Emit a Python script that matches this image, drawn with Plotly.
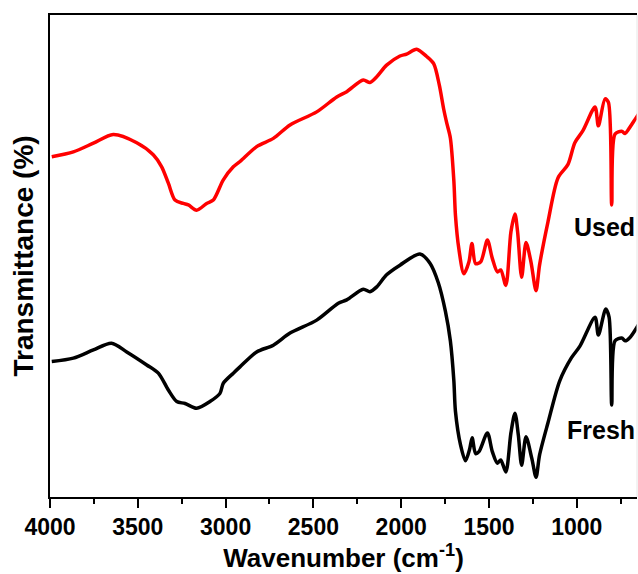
import plotly.graph_objects as go

# FTIR spectra: wavenumber (cm^-1) and transmittance (arbitrary, offset)
used_wn = [3990, 3867, 3753, 3640, 3506, 3412, 3364, 3326, 3288, 3241, 3212, 3165,
           3108, 3070, 3013, 2956, 2918, 2823, 2728, 2633, 2481, 2367, 2310, 2216,
           2178, 2139, 2083, 2007, 1969, 1912, 1855, 1815, 1783, 1758, 1740, 1720, 1700,
           1691, 1672, 1643, 1614, 1597, 1576, 1547, 1509, 1481, 1452, 1433, 1404,
           1375, 1352, 1337, 1314, 1289, 1261, 1232, 1212, 1164, 1107, 1050, 1011,
           965, 896, 877, 839, 820, 801, 782, 744, 725, 705, 667, 640]
used_t = [70.6, 71.6, 73.4, 75.2, 73.5, 71.0, 68.5, 65.1, 61.6, 60.9, 60.6, 59.5,
          60.9, 61.6, 65.8, 68.5, 69.6, 72.7, 74.4, 77.2, 79.9, 83.0, 84.1, 86.5,
          86.0, 87.2, 89.6, 91.5, 91.9, 92.9, 91.4, 89.9, 85.5, 80.5, 77.5, 74.5, 65.6,
          58.5, 51.6, 46.3, 48.8, 52.6, 48.4, 48.8, 53.3, 49.5, 46.7, 47.1, 43.9,
          55.0, 58.7, 55.0, 45.6, 52.8, 48.8, 42.8, 48.1, 57.1, 66.2, 69.0, 73.5,
          76.0, 80.9, 77.0, 82.6, 81.9, 60.6, 75.3, 75.9, 75.4, 76.3, 78.4, 79.9]

fresh_wn = [3990, 3867, 3753, 3650, 3563, 3449, 3383, 3326, 3278, 3231, 3165, 3089,
            3032, 3013, 2956, 2918, 2823, 2728, 2633, 2481, 2358, 2310, 2216, 2178,
            2139, 2083, 2007, 1893, 1836, 1789, 1748, 1720, 1700, 1691, 1662, 1634,
            1611, 1596, 1576, 1557, 1509, 1481, 1452, 1433, 1404, 1375, 1352, 1333,
            1314, 1289, 1256, 1232, 1212, 1164, 1097, 1030, 982, 896, 877, 835,
            816, 801, 782, 744, 725, 697, 646]
fresh_t = [28.1, 28.8, 30.5, 31.9, 30.1, 27.4, 25.7, 22.2, 19.8, 19.4, 18.4, 19.8,
           21.5, 23.6, 25.7, 27.0, 30.1, 31.5, 34.0, 36.7, 40.2, 40.9, 43.1, 42.6,
           43.6, 46.1, 48.1, 50.4, 48.5, 44.5, 38.5, 32.4, 24.1, 17.8, 10.8, 7.5,
           9.8, 12.3, 9.0, 9.4, 13.3, 9.4, 7.0, 7.7, 5.2, 13.3, 17.4, 12.9,
           6.6, 12.5, 8.0, 4.1, 8.7, 15.4, 24.1, 28.9, 31.3, 37.3, 33.6, 39.0,
           37.3, 19.1, 32.4, 33.0, 32.4, 33.1, 35.9]

x_ticks = [4000, 3500, 3000, 2500, 2000, 1500, 1000]
x_range = [4000, 657]
y_range = [0, 100]

tick_font = dict(family="Liberation Sans, Arial", size=23, color="black")
title_font = dict(family="Liberation Sans, Arial", size=26, color="black")
ytitle_font = dict(family="Liberation Sans, Arial", size=28, color="black")
line_style = dict(width=3.5, shape="spline", smoothing=0.8)

fig = go.Figure()
fig.add_trace(go.Scatter(x=used_wn, y=used_t, mode="lines",
                         line=dict(color="#ff0000", **line_style),
                         name="Used", showlegend=False))
fig.add_trace(go.Scatter(x=fresh_wn, y=fresh_t, mode="lines",
                         line=dict(color="#000000", **line_style),
                         name="Fresh", showlegend=False))

label_font = dict(family="Liberation Sans, Arial", size=25, color="black")
fig.add_annotation(text="<b>Used</b>", x=1, xref="paper", y=56.0, yref="y",
                   xanchor="right", yanchor="middle", showarrow=False, font=label_font)
fig.add_annotation(text="<b>Fresh</b>", x=1, xref="paper", y=14.0, yref="y",
                   xanchor="right", yanchor="middle", showarrow=False, font=label_font)

# faint right frame edge
fig.add_shape(type="line", xref="paper", yref="paper", x0=1, x1=1, y0=0, y1=1,
              line=dict(color="#e6e6e6", width=1))

fig.update_layout(
    width=638, height=574,
    margin=dict(l=50, r=1, t=15, b=77),
    paper_bgcolor="white", plot_bgcolor="white",
    xaxis=dict(
        range=x_range, tickvals=x_ticks, ticktext=[f"<b>{v}</b>" for v in x_ticks],
        ticks="outside", ticklen=9, tickwidth=1.5, tickcolor="black",
        showline=True, linecolor="black", linewidth=1.5, mirror=True,
        showgrid=False, zeroline=False, tickfont=tick_font,
        minor=dict(ticks="outside", ticklen=5, tickwidth=1.5, tickcolor="black",
                   dtick=250, tick0=4000, showgrid=False),
        title=dict(text="<b>Wavenumber (cm<sup>-1</sup>)</b>", font=title_font, standoff=4),
    ),
    yaxis=dict(
        range=y_range, showticklabels=False, ticks="",
        showline=True, linecolor="black", linewidth=1.5,
        showgrid=False, zeroline=False,
        title=dict(text="<b>Transmittance (%)</b>", font=ytitle_font, standoff=6),
    ),
)

fig.write_html("out.html")
